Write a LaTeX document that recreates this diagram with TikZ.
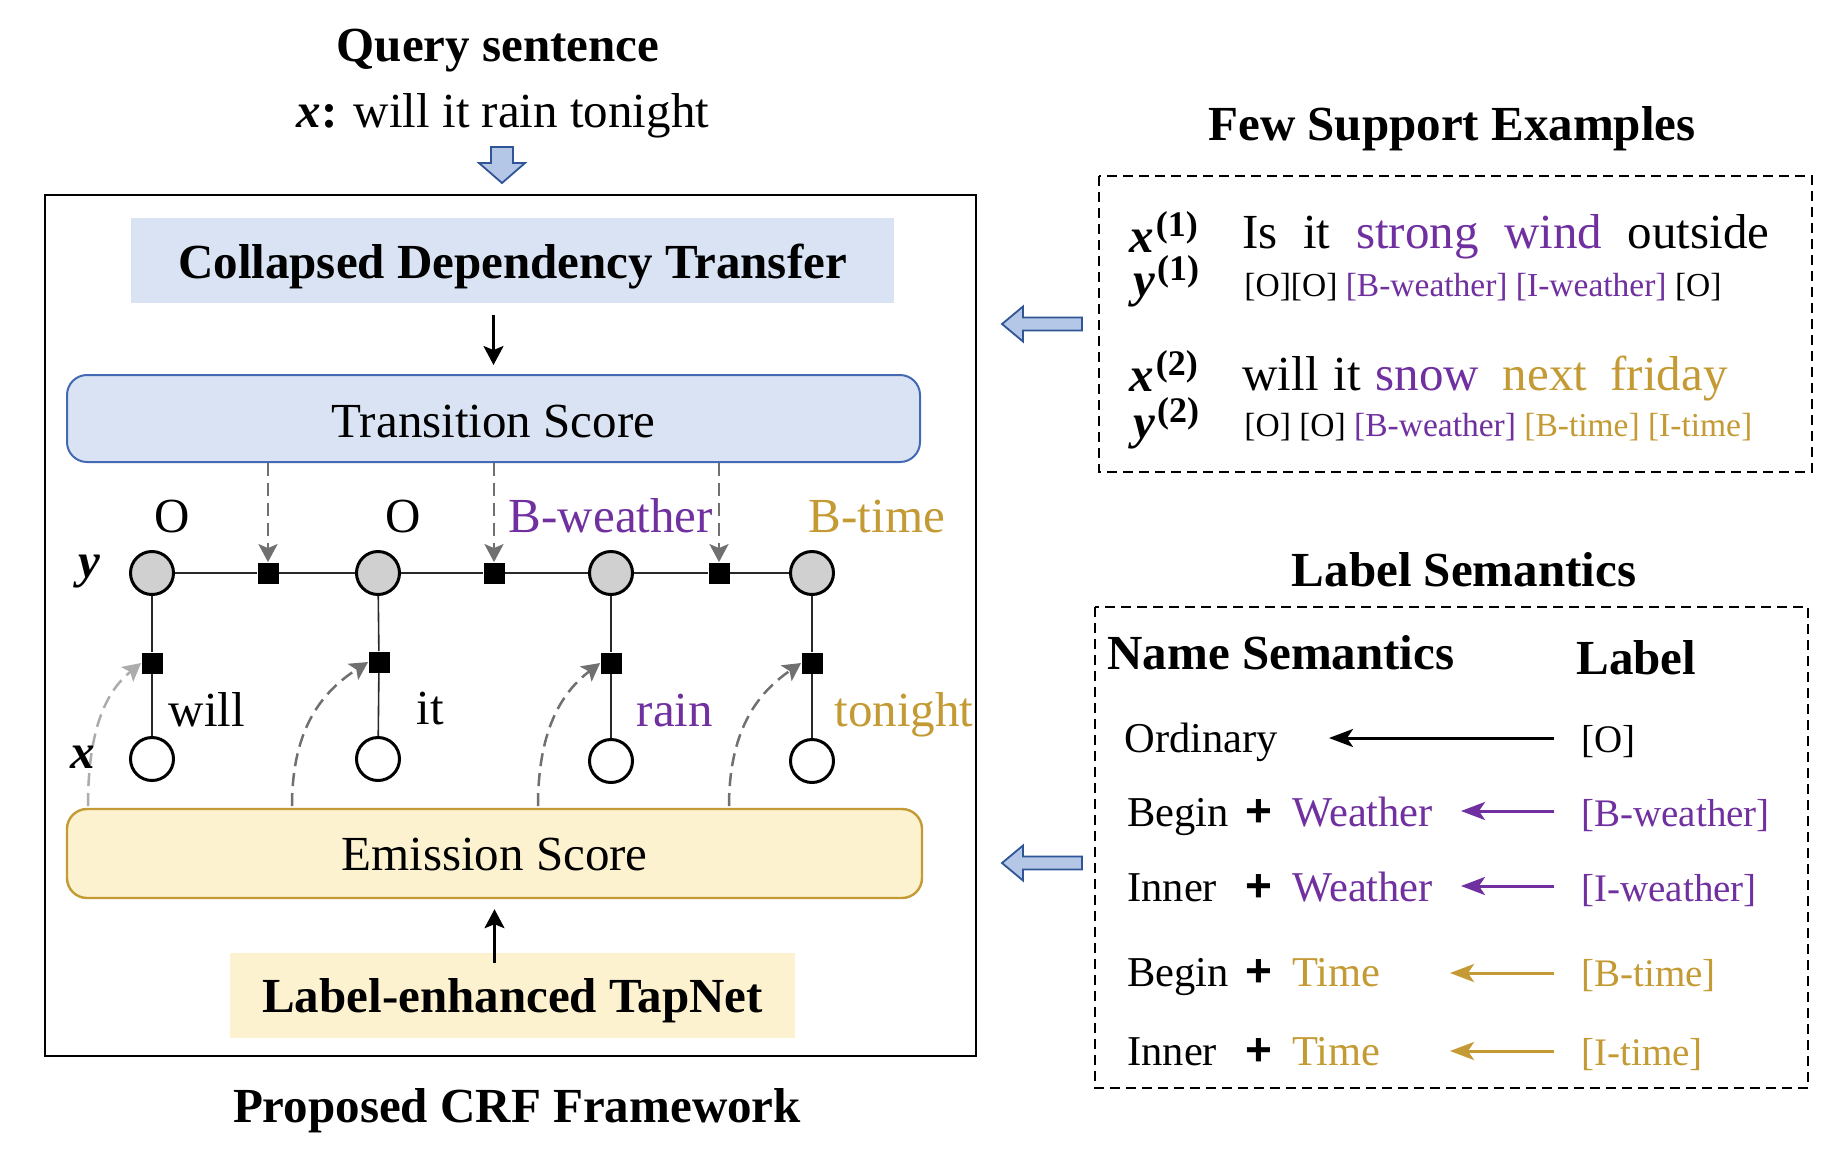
\documentclass[tikz,border=0pt]{standalone}
\usepackage{fontspec}
\setmainfont{Liberation Serif}
\newfontfamily\plusfont{Liberation Sans}
\usetikzlibrary{arrows.meta}
\definecolor{lpurple}{RGB}{112,48,160}
\definecolor{lgold}{RGB}{196,154,52}
\definecolor{tsfill}{RGB}{218,227,243}
\definecolor{tsborder}{RGB}{68,105,180}
\definecolor{esfill}{RGB}{253,242,208}
\definecolor{esborder}{RGB}{196,154,52}
\definecolor{hafill}{RGB}{180,199,231}
\definecolor{haborder}{RGB}{47,85,151}
\definecolor{dgray}{RGB}{112,112,112}
\definecolor{lgray}{RGB}{172,172,172}
\definecolor{nodegray}{RGB}{208,208,208}
\definecolor{linegray}{RGB}{40,40,40}
\newcommand{\fsB}{\fontsize{24.5pt}{29pt}\selectfont}
\newcommand{\fsM}{\fontsize{21.25pt}{25pt}\selectfont}
\newcommand{\fsR}{\fontsize{19.5pt}{23pt}\selectfont}
\newcommand{\fsS}{\fontsize{16.75pt}{20pt}\selectfont}
\newcommand{\fsSup}{\fontsize{18pt}{20pt}\selectfont}
\newcommand{\fsPlus}{\plusfont\fontsize{23pt}{25pt}\selectfont}
\newcommand{\bix}{{\bfseries\itshape x}}
\newcommand{\biy}{{\bfseries\itshape y}}
\newcommand{\supn}[1]{\hspace{1pt}\raisebox{8pt}{\fsSup\bfseries(#1)}}
\begin{document}
\begin{tikzpicture}[x=0.5pt,y=-0.5pt,
  txt/.style={inner sep=0pt, font=\fsB},
  semtxt/.style={inner sep=0pt, font=\fsM, anchor=base west},
  labtxt/.style={inner sep=0pt, font=\fsR, anchor=base west},
  plustxt/.style={inner sep=0pt, font=\fsPlus\bfseries, anchor=center},
  box/.style={inner sep=0pt, font=\fsB, text depth=0pt},
  ynode/.style={circle, draw=black, line width=1.5pt, fill=nodegray, minimum size=21.5pt, inner sep=0pt},
  xnode/.style={circle, draw=black, line width=1.5pt, fill=white, minimum size=21.5pt, inner sep=0pt},
  fac/.style={rectangle, fill=black, minimum size=10.5pt, inner sep=0pt},
  chain/.style={linegray, line width=1pt},
  tarrow/.style={dgray, line width=1.25pt, dash pattern=on 6.5pt off 3.5pt, -{Stealth[length=9pt,width=9.5pt,inset=2pt]}},
  carrow/.style={line width=1.25pt, dash pattern=on 6.5pt off 3.5pt, -{Stealth[length=9pt,width=9.5pt,inset=2pt]}},
  barrow/.style={black, line width=1.25pt, -{Stealth[length=9.5pt,width=10pt,inset=2pt]}},
  semarrow/.style={line width=1.5pt, -{Stealth[length=12pt,width=9pt,inset=3pt]}},
  hollow/.style={draw=haborder, fill=hafill, line width=0.9pt, line join=miter},
  dbox/.style={draw=black, line width=1.25pt, dash pattern=on 5pt off 3pt}
]
\useasboundingbox (0,0) rectangle (1848,1148);
\fill[white] (0,0) rectangle (1848,1148);

% ---------------- left panel ----------------
\node[txt, anchor=base, font=\fsB\bfseries] (qtitle) at (498,61) {Query sentence};
\node[txt, anchor=base] (qsent) at (503,127) {\bix\textbf{:} will it rain tonight};
\draw[hollow] (491,147) -- (513,147) -- (513,163) -- (525,163) -- (502,183) -- (479,163) -- (491,163) -- cycle;

\draw[line width=1.2pt] (45,195) rectangle (976,1056);

\node[box, fill=tsfill, minimum width=381.5pt, minimum height=42.5pt, text height=17.5pt, font=\fsB\bfseries] (cdt) at (512.5,260.5) {Collapsed Dependency Transfer};
\node[box, fill=tsfill, draw=tsborder, line width=1pt, rounded corners=10pt, minimum width=426.5pt, minimum height=43.5pt, text height=19pt] (ts) at (493.5,418.5) {Transition Score};
\node[box, fill=esfill, draw=esborder, line width=1.2pt, rounded corners=10pt, minimum width=427.5pt, minimum height=44.5pt, text height=16.5pt] (es) at (494.5,853.5) {Emission Score};
\node[box, fill=esfill, minimum width=282.5pt, minimum height=42.5pt, text height=16.5pt, font=\fsB\bfseries] (tn) at (512.5,995.5) {Label-enhanced TapNet};

\draw[barrow, shorten <=6pt, shorten >=4.5pt] (ts.north |- cdt.south) -- (ts.north);
\draw[barrow, shorten <=-5pt, shorten >=5pt] (es.south |- tn.north) -- (es.south);

% factor graph
\node[fac] (f1) at (268,573) {};
\node[fac] (f2) at (494,573) {};
\node[fac] (f3) at (719,573) {};
\node[fac] (e1) at (152,663) {};
\node[fac] (e2) at (379,662) {};
\node[fac] (e3) at (611,663) {};
\node[fac] (e4) at (812,663) {};
\node[ynode] (y1) at (152,573) {};
\node[ynode] (y2) at (378,573) {};
\node[ynode] (y3) at (611,573) {};
\node[ynode] (y4) at (812,573) {};
\node[xnode] (x1) at (152,759) {};
\node[xnode] (x2) at (378,759) {};
\node[xnode] (x3) at (611,761) {};
\node[xnode] (x4) at (812,761) {};

\draw[chain] (y1) -- (f1) -- (y2) -- (f2) -- (y3) -- (f3) -- (y4);
\draw[chain, line width=0.8pt] (y1) -- (e1) -- (x1);
\draw[chain, line width=0.8pt] (y2) -- (e2) -- (x2);
\draw[chain, line width=0.8pt] (y3) -- (e3) -- (x3);
\draw[chain, line width=0.8pt] (y4) -- (e4) -- (x4);

\draw[tarrow] (f1 |- ts.south) -- (f1.north);
\draw[tarrow] (f2 |- ts.south) -- (f2.north);
\draw[tarrow] (f3 |- ts.south) -- (f3.north);

\coordinate (c1) at (88,806);
\coordinate (c2) at (292,806);
\coordinate (c3) at (538,806);
\coordinate (c4) at (729,806);
\draw[carrow, lgray] (c1) .. controls (88,725) and (108,690) .. (e1.west);
\draw[carrow, dgray] (c2) .. controls (292,725) and (325,690) .. (e2.west);
\draw[carrow, dgray] (c3) .. controls (538,725) and (565,690) .. (e3.west);
\draw[carrow, dgray] (c4) .. controls (729,725) and (762,690) .. (e4.west);

\node[txt, anchor=base] (lO1) at (172,532) {O};
\node[txt, anchor=base] (lO2) at (403,532) {O};
\node[txt, anchor=base, text=lpurple] (lBw) at (611,532) {B-weather};
\node[txt, anchor=base, text=lgold] (lBt) at (877,532) {B-time};
\node[txt, anchor=base] (ylab) at (89,577) {\biy};
\node[txt, anchor=base] (xlab) at (83,768) {\bix};
\node[txt, anchor=base] (w1) at (207,726) {will};
\node[txt, anchor=base] (w2) at (430,724) {it};
\node[txt, anchor=base, text=lpurple] (w3) at (675,726) {rain};
\node[txt, anchor=base, text=lgold] (w4) at (904,726) {tonight};

\node[txt, anchor=base, font=\fsB\bfseries] (crf) at (517,1122) {Proposed CRF Framework};

% ---------------- right panel ----------------
\node[txt, anchor=base, font=\fsB\bfseries] (fse) at (1452,140) {Few Support Examples};
\draw[dbox] (1099,176) rectangle (1812,472);
\draw[hollow] (1082,317.5) -- (1023,317.5) -- (1023,306.5) -- (1002,324) -- (1023,341.5) -- (1023,330.5) -- (1082,330.5) -- cycle;

\node[txt, anchor=base west] (sx1) at (1129,252) {\bix\supn{1}};
\node[txt, anchor=base west] (s1) at (1242,248) {Is\hspace{12.8pt}it\hspace{12.8pt}\textcolor{lpurple}{strong\hspace{12.8pt}wind}\hspace{12.8pt}outside};
\node[txt, anchor=base west] (sy1) at (1133,296) {\biy\supn{1}};
\node[txt, anchor=base west, font=\fsS] (t1) at (1244,296) {[O][O] \textcolor{lpurple}{[B-weather]} \textcolor{lpurple}{[I-weather]} [O]};
\node[txt, anchor=base west] (sx2) at (1129,391) {\bix\supn{2}};
\node[txt, anchor=base west] (s2) at (1242,390) {will\hspace{7.5pt}it\hspace{7.5pt}\textcolor{lpurple}{snow}\hspace{11.75pt}\textcolor{lgold}{next\hspace{11.75pt}friday}};
\node[txt, anchor=base west] (sy2) at (1133,438) {\biy\supn{2}};
\node[txt, anchor=base west, font=\fsS] (t2) at (1244,436) {[O] [O] \textcolor{lpurple}{[B-weather]} \textcolor{lgold}{[B-time] [I-time]}};

\node[txt, anchor=base, font=\fsB\bfseries] (lst) at (1464,586) {Label Semantics};
\draw[dbox] (1095,607) rectangle (1808,1088);
\draw[hollow] (1082,856.5) -- (1023,856.5) -- (1023,845.5) -- (1002,863) -- (1023,880.5) -- (1023,869.5) -- (1082,869.5) -- cycle;

\node[txt, anchor=base west, font=\fsB\bfseries] (hname) at (1107,669) {Name Semantics};
\node[txt, anchor=base west, font=\fsB\bfseries] (hlab) at (1576,674) {Label};

% row 1
\node[semtxt] (n1) at (1124,752) {Ordinary};
\node[labtxt] (l1) at (1581,752) {[O]};
\coordinate (a1s) at (1554,738); \coordinate (a1e) at (1329,738);
\draw[semarrow, black] (a1s) -- (a1e);
% row 2
\node[semtxt] (n2) at (1127,826) {Begin};
\node[plustxt] (p2) at (1259,813) {+};
\node[semtxt, text=lpurple] (m2) at (1292,826) {Weather};
\node[labtxt, text=lpurple] (l2) at (1581,826) {[B-weather]};
\coordinate (a2s) at (1554,811); \coordinate (a2e) at (1461,811);
\draw[semarrow, lpurple] (a2s) -- (a2e);
% row 3
\node[semtxt] (n3) at (1127,901) {Inner};
\node[plustxt] (p3) at (1259,888) {+};
\node[semtxt, text=lpurple] (m3) at (1292,901) {Weather};
\node[labtxt, text=lpurple] (l3) at (1581,901) {[I-weather]};
\coordinate (a3s) at (1554,886); \coordinate (a3e) at (1461,886);
\draw[semarrow, lpurple] (a3s) -- (a3e);
% row 4
\node[semtxt] (n4) at (1127,986) {Begin};
\node[plustxt] (p4) at (1259,973) {+};
\node[semtxt, text=lgold] (m4) at (1292,986) {Time};
\node[labtxt, text=lgold] (l4) at (1581,986) {[B-time]};
\coordinate (a4s) at (1554,973); \coordinate (a4e) at (1450,973);
\draw[semarrow, lgold] (a4s) -- (a4e);
% row 5
\node[semtxt] (n5) at (1127,1065) {Inner};
\node[plustxt] (p5) at (1259,1052) {+};
\node[semtxt, text=lgold] (m5) at (1292,1065) {Time};
\node[labtxt, text=lgold] (l5) at (1581,1065) {[I-time]};
\coordinate (a5s) at (1554,1051); \coordinate (a5e) at (1450,1051);
\draw[semarrow, lgold] (a5s) -- (a5e);
\end{tikzpicture}
\end{document}
